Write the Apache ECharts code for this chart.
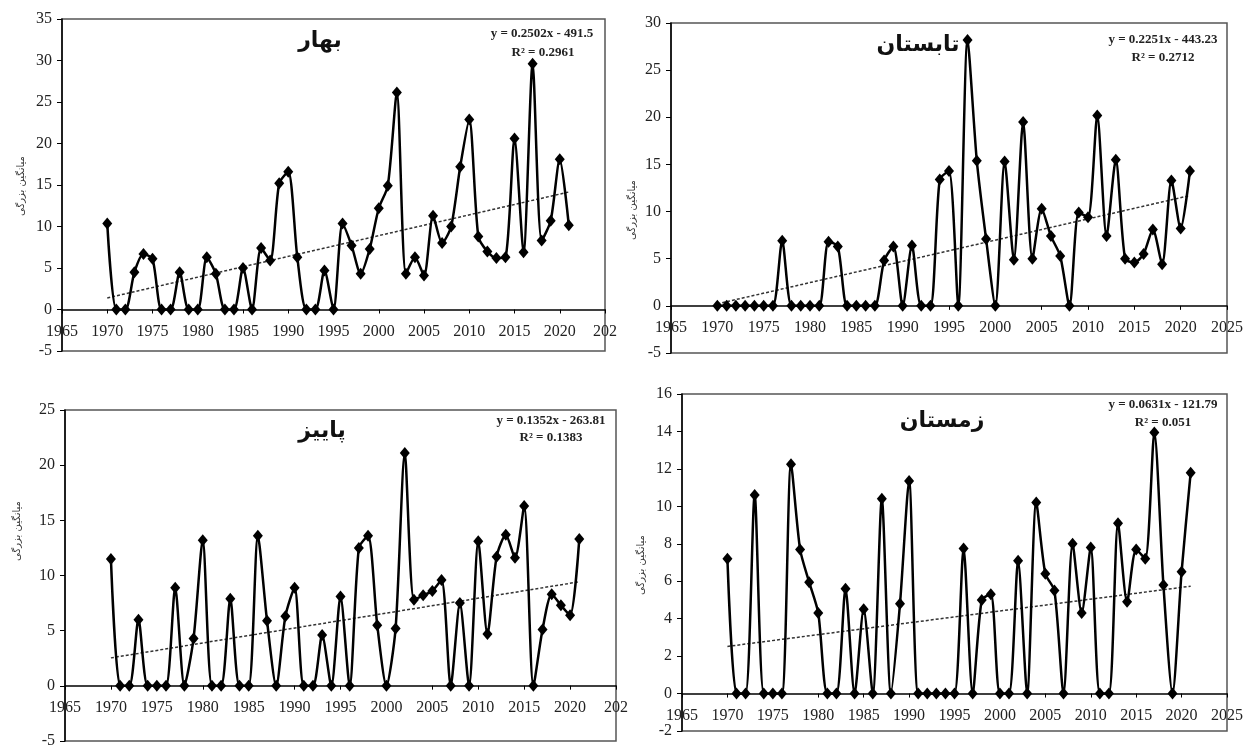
<!DOCTYPE html>
<html><head><meta charset="utf-8">
<script src="https://cdn.jsdelivr.net/npm/echarts@6/dist/echarts.min.js"></script>
<style>html,body{margin:0;padding:0;background:#fff}#c{width:1246px;height:749px}</style>
</head><body><div id="c"></div>
<script>
const years = [1970,1971,1972,1973,1974,1975,1976,1977,1978,1979,
  1980,1981,1982,1983,1984,1985,1986,1987,1988,1989,
  1990,1991,1992,1993,1994,1995,1996,1997,1998,1999,
  2000,2001,2002,2003,2004,2005,2006,2007,2008,2009,
  2010,2011,2012,2013,2014,2015,2016,2017,2018,2019,
  2020,2021];

const spring = [10.35,0,0,4.5,6.7,6.1,0,0,4.5,0,
  0,6.3,4.3,0,0,5.0,0,7.4,5.9,15.2,
  16.6,6.3,0,0,4.7,0,10.35,7.7,4.3,7.3,
  12.2,14.9,26.15,4.3,6.3,4.1,11.3,8.0,10.0,17.2,
  22.9,8.8,7.0,6.2,6.3,20.6,6.9,29.6,8.3,10.7,
  18.1,10.15];

const summer = [0,0,0,0,0,0,0,6.9,0,0,
  0,0,6.8,6.3,0,0,0,0,4.8,6.3,
  0,6.4,0,0,13.4,14.3,0,28.2,15.4,7.1,
  0,15.3,4.9,19.5,5.0,10.3,7.4,5.3,0,9.9,
  9.4,20.2,7.4,15.5,5.0,4.6,5.5,8.1,4.4,13.3,
  8.2,14.3];

const autumn = [11.5,0,0,6.0,0,0,0,8.9,0,4.3,
  13.2,0,0,7.9,0,0,13.6,5.9,0,6.3,
  8.9,0,0,4.6,0,8.1,0,12.5,13.6,5.5,
  0,5.2,21.1,7.8,8.2,8.6,9.6,0,7.5,0,
  13.1,4.7,11.7,13.7,11.6,16.3,0,5.1,8.3,7.3,
  6.4,13.3];

const winter = [7.2,0,0,10.6,0,0,0,12.25,7.7,5.95,
  4.3,0,0,5.6,0,4.5,0,10.4,0,4.8,
  11.35,0,0,0,0,0,7.75,0,5.0,5.3,
  0,0,7.1,0,10.2,6.4,5.5,0,8.0,4.3,
  7.8,0,0,9.1,4.9,7.7,7.2,13.95,5.8,0,
  6.5,11.8];

const seasonNames = ['بهار','تابستان','پاییز','زمستان'];
const trendSlopes = [0.2502, 0.2251, 0.1352, 0.0631];
const trendIntercepts = [-491.5, -443.23, -263.81, -121.79];
const equationTexts = ['y = 0.2502x - 491.5','y = 0.2251x - 443.23','y = 0.1352x - 263.81','y = 0.0631x - 121.79'];
const r2Texts = ['R² = 0.2961','R² = 0.2712','R² = 0.1383','R² = 0.051'];
const yAxisTitle = 'میانگین بزرگی';

const xTicksLeft = ['1965','1970','1975','1980','1985','1990','1995','2000','2005','2010','2015','2020','202'];
const xTicksRight = ['1965','1970','1975','1980','1985','1990','1995','2000','2005','2010','2015','2020','2025'];
const yMins = [-5,-5,-5,-2];
const yMaxs = [35,30,25,16];
const yIntervals = [5,5,5,2];

const seriesValues = [spring, summer, autumn, winter];
const xTickSets = [xTicksLeft, xTicksRight, xTicksLeft, xTicksRight];

// layout
const grids = [
  {left:62, top:19, width:543, height:332},
  {left:671, top:23, width:556, height:330},
  {left:65, top:410, width:551, height:332},
  {left:682, top:394, width:545, height:337}
];
const titlePos = [[320,41],[918,45],[322,431],[942,421]];
const eqPos = [[542,34],[1163,40],[551,421],[1163,405]];
const r2Pos = [[543,53],[1163,58],[551,438],[1163,423]];
const yNamePos = [[21,186],[632,210],[17,531],[641,565]];

const chart = echarts.init(document.getElementById('c'), null, {renderer:'canvas'});

const option = {
  animation:false,
  backgroundColor:'#fff',
  grid: grids.map(g => Object.assign({show:true, borderColor:'#555', borderWidth:1.5, backgroundColor:'transparent', containLabel:false}, g)),
  xAxis: grids.map((g,i) => ({
    gridIndex:i, type:'value', min:1965, max:2025, interval:5, position:'bottom',
    // place the category axis where the value axis crosses zero (Excel "crosses at 0")
    offset: -g.height * (0 - yMins[i]) / (yMaxs[i] - yMins[i]),
    axisLine:{show:true, onZero:false, lineStyle:{color:'#000', width:1.5}},
    axisTick:{show:true, length:4, lineStyle:{color:'#000', width:1}},
    axisLabel:{show:true, showMinLabel:true, showMaxLabel:true, fontFamily:'Liberation Serif', fontSize:16, color:'#222', margin:14,
      formatter: v => xTickSets[i][Math.round((v-1965)/5)] }
    ,splitLine:{show:false}
  })),
  yAxis: grids.map((g,i) => ({
    gridIndex:i, type:'value', min:yMins[i], max:yMaxs[i], interval:yIntervals[i],
    axisLine:{show:true, onZero:false, lineStyle:{color:'#000', width:1.5}},
    axisTick:{show:true, length:5, lineStyle:{color:'#000', width:1}},
    axisLabel:{fontFamily:'Liberation Serif', fontSize:16, color:'#222', margin:10, showMinLabel:true, showMaxLabel:true},
    splitLine:{show:false}
  })),
  series: [],
  graphic: []
};

seriesValues.forEach((vals,i) => {
  option.series.push({
    type:'line', xAxisIndex:i, yAxisIndex:i,
    data: years.map((y,k) => [y, vals[k]]),
    smooth:0.25, symbol:'diamond', symbolSize:[10,12],
    lineStyle:{color:'#000', width:2.5}, itemStyle:{color:'#000'}, z:3
  });
  const y0 = years[0], y1 = years[years.length-1];
  option.series.push({
    type:'line', xAxisIndex:i, yAxisIndex:i,
    data: [[y0, trendSlopes[i]*y0+trendIntercepts[i]], [y1, trendSlopes[i]*y1+trendIntercepts[i]]],
    symbol:'none', lineStyle:{color:'#333', width:1.5, type:[3,2]}, z:2, silent:true
  });
  option.graphic.push({type:'text', x:titlePos[i][0], y:titlePos[i][1], z:10,
    style:{text:seasonNames[i], font:'bold 22px "DejaVu Sans"', fill:'#111', textAlign:'center', textVerticalAlign:'middle'}});
  option.graphic.push({type:'text', x:eqPos[i][0], y:eqPos[i][1], z:10,
    style:{text:equationTexts[i], font:'bold 13px "Liberation Serif"', fill:'#222', textAlign:'center', textVerticalAlign:'middle'}});
  option.graphic.push({type:'text', x:r2Pos[i][0], y:r2Pos[i][1], z:10,
    style:{text:r2Texts[i], font:'bold 13px "Liberation Serif"', fill:'#222', textAlign:'center', textVerticalAlign:'middle'}});
  option.graphic.push({type:'text', x:yNamePos[i][0], y:yNamePos[i][1], rotation:Math.PI/2, z:10,
    style:{text:yAxisTitle, font:'10px "DejaVu Sans"', fill:'#333', textAlign:'center', textVerticalAlign:'middle'}});
});

chart.setOption(option);
</script>
</body></html>
